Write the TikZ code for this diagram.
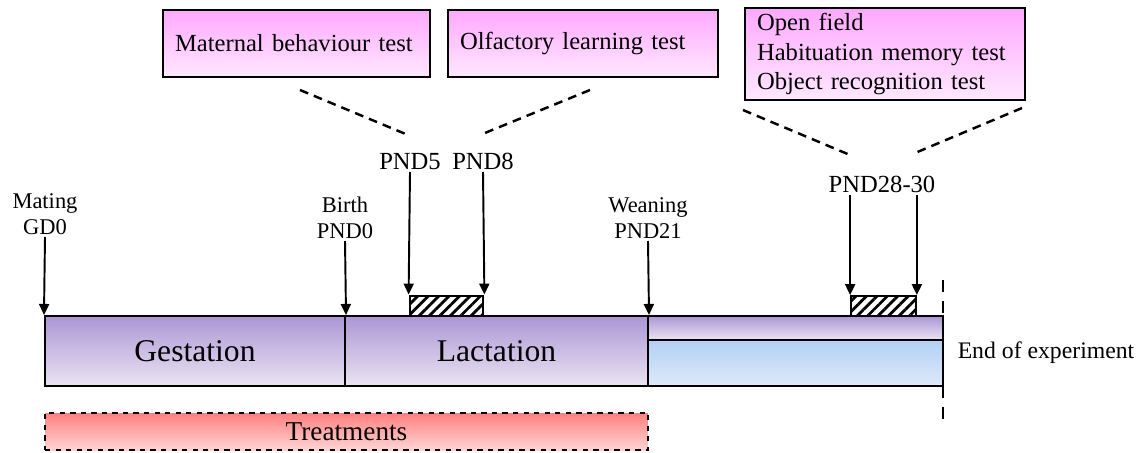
\documentclass[tikz,border=0pt]{standalone}
\usepackage{fontspec}
\setmainfont{Liberation Serif}
\usetikzlibrary{patterns.meta, arrows.meta, calc}
\definecolor{phasetop}{RGB}{172,150,212}
\definecolor{phasebot}{RGB}{234,228,243}
\definecolor{testtop}{RGB}{255,168,255}
\definecolor{testbot}{RGB}{255,232,255}
\definecolor{latertop}{RGB}{178,208,244}
\definecolor{laterbot}{RGB}{222,234,250}
\definecolor{treattop}{RGB}{255,128,128}
\definecolor{treatbot}{RGB}{255,212,212}
\tikzset{
  phase/.style={draw, line width=1.2pt, top color=phasetop, bottom color=phasebot,
    inner sep=0pt, font=\fontsize{18}{20}\selectfont},
  testbox/.style={draw, line width=0.7pt, top color=testtop, bottom color=testbot,
    inner xsep=0.24cm, inner ysep=0pt, align=left, font=\fontsize{14}{17}\selectfont},
  daylabel/.style={align=center, inner sep=1pt, font=\fontsize{12.8}{15}\selectfont},
  pndlabel/.style={align=center, inner sep=1pt, font=\fontsize{14}{16}\selectfont},
  hatchbox/.style={draw, line width=1pt, pattern={Lines[angle=45, distance=4.2pt, line width=1.6pt]}},
  arr/.style={line width=1.1pt, -{Triangle[length=2.2mm, width=2mm]}},
  link/.style={line width=1.4pt, dash pattern={on 5pt off 3.5pt}}
}

\begin{document}
\begin{tikzpicture}[x=0.02cm, y=-0.02cm]
    \useasboundingbox (0,0) rectangle (1143,453);

    % hatched test windows
    \node[hatchbox, minimum width=1.46cm, minimum height=0.4cm] (hatchA) at (446.5,306) {};
    \node[hatchbox, minimum width=1.3cm, minimum height=0.4cm] (hatchB) at (883.5,306) {};

    % timeline
    \node[phase, minimum width=6cm, minimum height=1.4cm] (gest) at (195,351) {Gestation};
    \node[phase, minimum width=6.06cm, minimum height=1.4cm] (lact) at (496.5,351) {Lactation};
    \node[draw, line width=0.8pt, top color=latertop, bottom color=laterbot, minimum width=5.9cm, minimum height=0.92cm] (later) at (795.5,363) {};
    \node[phase, minimum width=5.9cm, minimum height=0.48cm] (young) at (795.5,328) {};
    \node[draw, line width=0.8pt, dashed, top color=treattop, bottom color=treatbot, minimum width=12.06cm, minimum height=0.74cm, inner sep=0pt, font=\fontsize{15.5}{18}\selectfont] (treat) at (346.5,431.5) {Treatments};

    % day labels and arrows
    \node[daylabel, anchor=south] (mating) at (45,237) {Mating\\GD0};
    \node[daylabel, anchor=south] (birth) at (345,241) {Birth\\PND0};
    \node[daylabel, anchor=south] (weaning) at (648,241) {Weaning\\PND21};
    \node[pndlabel, anchor=south] (pndA) at (410,172) {PND5};
    \node[pndlabel, anchor=south] (pndB) at (483,172) {PND8};
    \node[pndlabel, anchor=south] (pndC) at (882,195) {PND28-30};

    \draw[arr] (mating.south) -- (gest.north west);
    \draw[arr] (birth.south) -- (gest.north east);
    \draw[arr] (weaning.south) -- (lact.north east);
    \draw[arr] (pndA.south) -- (hatchA.north west);
    \draw[arr] (pndB.south) -- (hatchA.north east);
    \draw[arr] (pndC.south -| hatchB.north west) -- (hatchB.north west);
    \draw[arr] (pndC.south -| hatchB.north east) -- (hatchB.north east);

    % tests
    \node[testbox, text width=4.86cm, minimum height=1.34cm] (maternal) at (296.5,43.5) {Maternal behaviour test};
    \node[testbox, text width=4.92cm, minimum height=1.34cm] (olfactory) at (583,43.5) {Olfactory learning test};
    \node[testbox, text width=5.12cm, minimum height=1.84cm] (openfield) at (885,54) {Open field\\Habituation memory test\\Object recognition test};

    \coordinate (linkAa) at (300,90);
    \coordinate (linkAb) at (408,135);
    \coordinate (linkBa) at (590,90);
    \coordinate (linkBb) at (480,135);
    \coordinate (linkCa) at (743,110);
    \coordinate (linkCb) at (850,155);
    \coordinate (linkDa) at (1022,108);
    \coordinate (linkDb) at (915,153);
    \draw[link] (linkAa) -- (linkAb);
    \draw[link] (linkBa) -- (linkBb);
    \draw[link] (linkCa) -- (linkCb);
    \draw[link] (linkDa) -- (linkDb);

    % end of experiment
    \coordinate (endtop) at (943,280);
    \coordinate (endbot) at (943,422);
    \draw[line width=1.3pt, dash pattern={on 7pt off 5pt}] (endtop) -- (endbot);
    \node[font=\fontsize{13.5}{16}\selectfont] (endexp) at (1046,353) {End of experiment};
\end{tikzpicture}
\end{document}
